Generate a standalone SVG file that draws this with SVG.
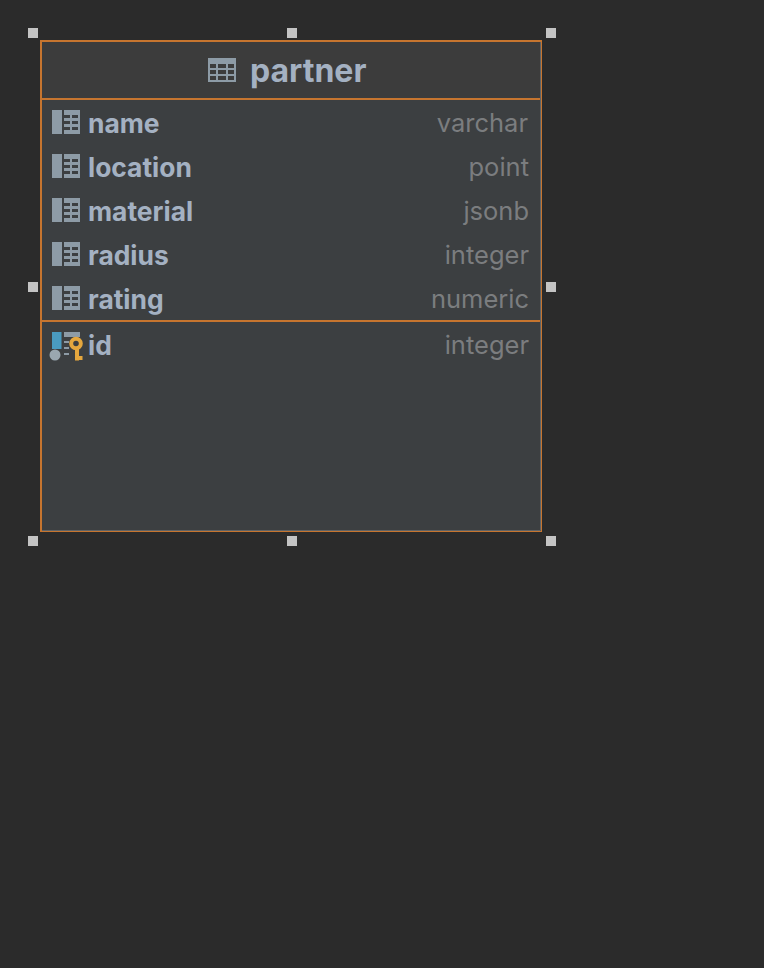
<svg xmlns="http://www.w3.org/2000/svg" width="764" height="968" viewBox="0 0 764 968">
<style>
.h{fill:#c4c4c4}
.n{font:700 26.400px Inter,"Liberation Sans",Arial,sans-serif;fill:#a4b1c2}
.t{font:400 25.500px Inter,"Liberation Sans",Arial,sans-serif;fill:#7b7d7f;text-anchor:end}
.sep{fill:#c6752f}
.c{fill:#8d9ba6}
.g{fill:#3c3f41}
</style>
<defs>
<g id="col">
<rect class="c" x="0" y="0" width="10" height="24"/>
<rect class="c" x="12" y="0" width="16" height="24"/>
<rect class="g" x="12" y="5" width="6" height="3"/><rect class="g" x="12" y="11" width="6" height="3"/><rect class="g" x="12" y="17" width="6" height="3"/>
<rect class="g" x="20" y="5" width="6" height="3"/><rect class="g" x="20" y="11" width="6" height="3"/><rect class="g" x="20" y="17" width="6" height="3"/>
</g>
</defs>
<rect width="764" height="968" fill="#2b2b2b"/>
<g id="partner">
<rect x="41" y="41" width="500" height="490" fill="#3c3f41"/>
<rect x="42" y="42" width="498" height="57" fill="#3c3c3c"/>
<rect class="sep" x="40" y="40" width="2" height="492"/>
<rect class="sep" x="40" y="40" width="502" height="2"/>
<rect class="sep" x="541" y="40" width="1" height="492"/>
<rect class="sep" x="40" y="531" width="502" height="1"/>
<rect class="sep" x="42" y="98" width="498" height="2"/>
<rect class="sep" x="42" y="320" width="498" height="2"/>
<path d="M540.500 42V530.500H42" fill="none" stroke="#606365" stroke-width="1"/>
<g id="table-icon">
<rect class="c" x="208" y="58" width="28" height="24"/>
<g fill="#3c3c3c">
<rect x="210" y="64" width="6" height="4"/><rect x="218" y="64" width="8" height="4"/><rect x="228" y="64" width="6" height="4"/>
<rect x="210" y="70" width="6" height="4"/><rect x="218" y="70" width="8" height="4"/><rect x="228" y="70" width="6" height="4"/>
<rect x="210" y="76" width="6" height="4"/><rect x="218" y="76" width="8" height="4"/><rect x="228" y="76" width="6" height="4"/>
</g>
</g>
<text x="250" y="82" font-family="Inter,Liberation Sans,Arial,sans-serif" font-weight="700" font-size="32" fill="#a4b1c2">partner</text>
</g>
<g id="row-name"><use href="#col" x="52" y="110"/><text class="n" x="88" y="132.500">name</text><text class="t" x="528" y="132">varchar</text></g>
<g id="row-location"><use href="#col" x="52" y="154"/><text class="n" x="88" y="176.500">location</text><text class="t" x="529" y="176">point</text></g>
<g id="row-material"><use href="#col" x="52" y="198"/><text class="n" x="88" y="220.500">material</text><text class="t" x="529" y="220">jsonb</text></g>
<g id="row-radius"><use href="#col" x="52" y="242"/><text class="n" x="88" y="264.500">radius</text><text class="t" x="529" y="264">integer</text></g>
<g id="row-rating"><use href="#col" x="52" y="286"/><text class="n" x="88" y="308.500">rating</text><text class="t" x="529" y="308">numeric</text></g>
<g id="row-id">
<rect x="52" y="332" width="9.500" height="17" fill="#4a9bc0"/>
<circle cx="55" cy="355" r="5.500" fill="#9aa7b0"/>
<rect class="c" x="64" y="332" width="16" height="5"/>
<rect class="c" x="64" y="341" width="5" height="2"/><rect class="c" x="64" y="347" width="5" height="2"/><rect class="c" x="64" y="353" width="5" height="2"/>
<circle cx="76" cy="343.500" r="4.800" fill="#3c3f41" stroke="#e5a73e" stroke-width="4"/>
<path d="M77 348V360.500M77 358H82.500" fill="none" stroke="#e5a73e" stroke-width="4"/>
<text class="n" x="88" y="354.500">id</text><text class="t" x="529" y="354">integer</text>
</g>
<g id="handles">
<rect class="h" x="28" y="28" width="10" height="10"/><rect class="h" x="287" y="28" width="10" height="10"/><rect class="h" x="546" y="28" width="10" height="10"/>
<rect class="h" x="28" y="282" width="10" height="10"/><rect class="h" x="546" y="282" width="10" height="10"/>
<rect class="h" x="28" y="536" width="10" height="10"/><rect class="h" x="287" y="536" width="10" height="10"/><rect class="h" x="546" y="536" width="10" height="10"/>
</g>
</svg>
